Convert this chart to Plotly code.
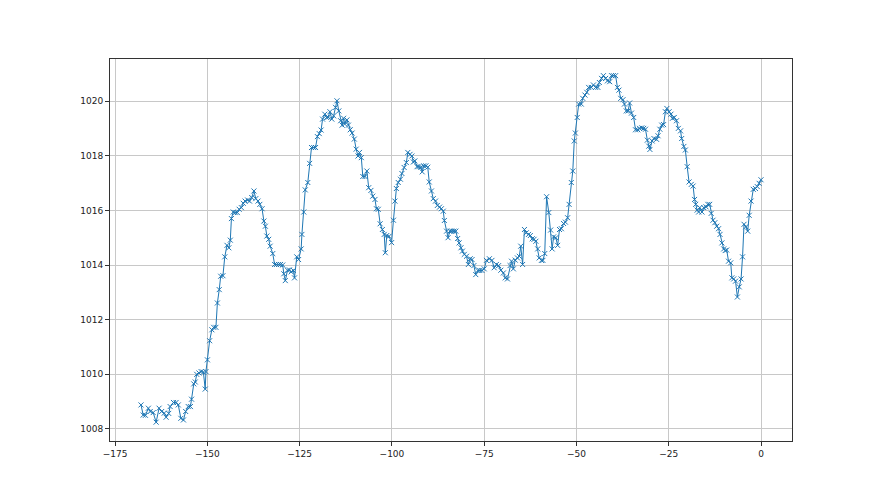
import plotly.graph_objects as go

# hours before now
x_vals = [
    -168.0, -167.4, -166.8, -166.0, -165.5, -164.7, -163.9, -163.1, -162.4, -161.7,
    -161.2, -160.5, -160.1, -159.2, -158.5, -157.9, -157.2, -156.5, -155.9, -155.2,
    -154.6, -154.3, -153.7, -153.3, -152.9, -152.3, -151.7, -151.1, -150.6, -150.4,
    -150.0, -149.4, -148.8, -148.3, -147.7, -147.3, -146.8, -146.4, -145.8, -145.3,
    -144.7, -144.2, -143.8, -143.5, -143.0, -142.5, -141.9, -141.4, -140.8, -140.3,
    -139.8, -139.1, -138.6, -138.0, -137.4, -136.9, -136.3, -135.8, -135.2, -134.7,
    -134.3, -133.9, -133.4, -133.0, -132.3, -131.8, -131.3, -130.7, -130.2, -129.6,
    -129.3, -128.9, -128.3, -127.8, -127.3, -126.7, -126.4, -125.8, -125.3, -124.6,
    -124.4, -123.9, -123.5, -122.8, -122.3, -121.8, -121.2, -120.7, -120.2, -119.7,
    -119.2, -118.8, -118.2, -117.7, -117.3, -116.8, -116.3, -115.8, -115.3, -114.9,
    -114.4, -113.9, -113.5, -113.1, -112.8, -112.2, -111.8, -111.3, -110.8, -110.2,
    -109.7, -109.2, -108.8, -108.3, -107.9, -107.3, -106.8, -106.3, -105.7, -105.2,
    -104.6, -104.2, -103.7, -103.2, -102.6, -102.1, -101.8, -101.4, -100.8, -100.1,
    -99.6, -99.2, -98.8, -98.3, -97.7, -97.3, -96.7, -96.1, -95.7, -95.1,
    -94.6, -94.2, -93.8, -93.2, -92.7, -92.2, -91.8, -91.4, -90.8, -90.3,
    -89.9, -89.3, -88.8, -88.2, -87.7, -87.1, -86.6, -86.1, -85.8, -85.2,
    -84.8, -84.3, -83.8, -83.2, -82.7, -82.2, -81.8, -81.3, -80.9, -80.4,
    -79.8, -79.3, -78.8, -78.3, -77.8, -77.3, -76.7, -76.2, -75.6, -75.0,
    -74.4, -73.6, -72.9, -72.3, -71.7, -71.1, -70.5, -69.8, -69.3, -68.7,
    -68.0, -67.6, -67.1, -66.6, -66.0, -65.5, -65.1, -64.6, -64.1, -63.6,
    -63.0, -62.5, -62.0, -61.5, -61.0, -60.5, -60.1, -59.5, -59.1, -58.6,
    -58.1, -57.5, -57.0, -56.6, -56.2, -55.6, -55.1, -54.6, -54.1, -53.5,
    -53.0, -52.4, -52.0, -51.4, -51.0, -50.6, -50.3, -49.8, -49.4, -48.7,
    -48.3, -47.7, -47.2, -46.7, -46.0, -45.4, -44.8, -44.2, -43.8, -43.2,
    -42.7, -42.1, -41.6, -41.0, -40.5, -40.0, -39.4, -38.9, -38.5, -38.0,
    -37.4, -37.0, -36.5, -36.0, -35.6, -35.1, -34.5, -34.0, -33.4, -32.9,
    -32.3, -31.8, -31.3, -30.8, -30.4, -30.1, -29.5, -29.0, -28.3, -27.9,
    -27.4, -26.9, -26.4, -25.9, -25.5, -24.9, -24.4, -24.0, -23.5, -22.9,
    -22.4, -21.8, -21.5, -20.9, -20.5, -20.0, -19.5, -18.9, -18.4, -18.0,
    -17.7, -17.3, -16.9, -16.6, -16.0, -15.5, -14.9, -14.4, -13.9, -13.5,
    -13.0, -12.5, -12.0, -11.5, -11.1, -10.6, -10.1, -9.7, -9.3, -8.8,
    -8.2, -7.9, -7.4, -6.9, -6.4, -5.9, -5.4, -5.0, -4.6, -4.1,
    -3.6, -3.2, -2.7, -2.1, -1.5, -1.0, -0.5, 0.0,
]

# pressure (hPa)
pressure = [
    1008.88, 1008.51, 1008.50, 1008.76, 1008.64, 1008.60, 1008.25, 1008.76, 1008.64, 1008.58,
    1008.43, 1008.57, 1008.82, 1008.97, 1008.97, 1008.88, 1008.39, 1008.33, 1008.64, 1008.82,
    1008.82, 1009.09, 1009.65, 1009.72, 1010.00, 1010.05, 1010.10, 1010.08, 1009.46, 1010.10,
    1010.53, 1011.23, 1011.63, 1011.72, 1011.72, 1012.61, 1013.10, 1013.59, 1013.61, 1014.30,
    1014.72, 1014.63, 1014.91, 1015.70, 1015.94, 1015.92, 1015.92, 1016.04, 1016.10, 1016.26,
    1016.34, 1016.38, 1016.34, 1016.47, 1016.71, 1016.43, 1016.34, 1016.22, 1016.06, 1015.61,
    1015.42, 1015.06, 1014.94, 1014.69, 1014.42, 1014.02, 1014.02, 1014.02, 1014.02, 1014.00,
    1013.68, 1013.43, 1013.81, 1013.82, 1013.75, 1013.80, 1013.53, 1014.30, 1014.20, 1014.59,
    1015.12, 1015.94, 1016.75, 1017.02, 1017.72, 1018.30, 1018.30, 1018.30, 1018.70, 1018.81,
    1018.94, 1019.34, 1019.52, 1019.40, 1019.41, 1019.61, 1019.34, 1019.46, 1019.77, 1020.01,
    1019.64, 1019.28, 1019.12, 1019.37, 1019.16, 1019.31, 1019.12, 1018.95, 1018.83, 1018.61,
    1018.24, 1017.99, 1018.12, 1017.93, 1017.24, 1017.24, 1017.44, 1016.83, 1016.73, 1016.52,
    1016.40, 1016.06, 1016.04, 1015.51, 1015.30, 1015.12, 1014.45, 1015.08, 1015.05, 1014.82,
    1015.64, 1016.34, 1016.80, 1017.02, 1017.14, 1017.35, 1017.57, 1017.75, 1018.12, 1018.05,
    1017.99, 1017.77, 1017.81, 1017.60, 1017.60, 1017.58, 1017.41, 1017.63, 1017.63, 1017.58,
    1017.04, 1016.71, 1016.43, 1016.34, 1016.18, 1016.12, 1016.06, 1015.97, 1015.63, 1015.24,
    1015.00, 1015.24, 1015.24, 1015.24, 1015.24, 1014.97, 1014.81, 1014.63, 1014.51, 1014.39,
    1014.32, 1014.02, 1014.23, 1014.20, 1013.98, 1013.65, 1013.80, 1013.80, 1013.80, 1013.86,
    1014.17, 1014.23, 1014.17, 1013.90, 1014.02, 1013.98, 1013.81, 1013.71, 1013.53, 1013.49,
    1013.98, 1014.14, 1013.86, 1014.18, 1014.26, 1014.32, 1014.69, 1014.02, 1015.30, 1015.18,
    1015.12, 1015.08, 1014.96, 1014.94, 1014.87, 1014.59, 1014.26, 1014.17, 1014.17, 1014.42,
    1016.50, 1015.92, 1015.28, 1014.59, 1015.03, 1015.00, 1014.72, 1015.30, 1015.33, 1015.52,
    1015.57, 1015.73, 1016.22, 1017.02, 1017.44, 1018.54, 1018.83, 1019.40, 1019.89, 1019.89,
    1020.10, 1020.22, 1020.32, 1020.50, 1020.50, 1020.59, 1020.50, 1020.50, 1020.68, 1020.83,
    1020.93, 1020.83, 1020.74, 1020.71, 1020.93, 1020.93, 1020.93, 1020.50, 1020.40, 1020.10,
    1020.05, 1019.89, 1019.64, 1019.64, 1019.93, 1019.56, 1019.40, 1018.95, 1018.95, 1019.00,
    1019.02, 1019.00, 1018.97, 1018.57, 1018.35, 1018.23, 1018.54, 1018.63, 1018.60, 1018.73,
    1018.97, 1019.12, 1019.14, 1019.61, 1019.73, 1019.61, 1019.52, 1019.37, 1019.40, 1019.28,
    1019.00, 1018.91, 1018.63, 1018.34, 1018.21, 1017.60, 1017.04, 1016.95, 1016.89, 1016.40,
    1016.22, 1016.01, 1015.94, 1016.10, 1015.94, 1016.10, 1016.13, 1016.22, 1016.22, 1015.89,
    1015.64, 1015.55, 1015.42, 1015.33, 1015.12, 1014.81, 1014.59, 1014.53, 1014.55, 1014.14,
    1014.08, 1013.53, 1013.49, 1013.41, 1012.83, 1013.20, 1013.49, 1014.30, 1015.49, 1015.40,
    1015.24, 1015.82, 1016.34, 1016.77, 1016.80, 1016.87, 1016.99, 1017.12,
]

x_ticks = [-175, -150, -125, -100, -75, -50, -25, 0]
y_ticks = [1008, 1010, 1012, 1014, 1016, 1018, 1020]

fig = go.Figure()
fig.add_trace(go.Scatter(
    x=x_vals, y=pressure, mode="lines+markers",
    line=dict(color="#1f77b4", width=1),
    marker=dict(symbol="x-thin", size=5, line=dict(color="#1f77b4", width=1)),
    showlegend=False,
))

axis_common = dict(
    showgrid=True, gridcolor="#c8c8c8", gridwidth=0.8,
    showline=True, linecolor="#333333", linewidth=1, mirror=True,
    ticks="outside", ticklen=4, tickcolor="#333333",
    zeroline=False, tickfont=dict(family="DejaVu Sans", size=9, color="#222222"),
)

# page body has an 8px margin, so the figure is a bit smaller than the window
fig.update_layout(
    width=864, height=479,
    paper_bgcolor="white", plot_bgcolor="white",
    margin=dict(l=102, r=80, t=51, b=46),
)
fig.update_xaxes(range=[-176.4, 8.4], tickvals=x_ticks, **axis_common)
fig.update_yaxes(range=[1007.56, 1021.54], tickvals=y_ticks, **axis_common)

fig.write_html("out.html")
